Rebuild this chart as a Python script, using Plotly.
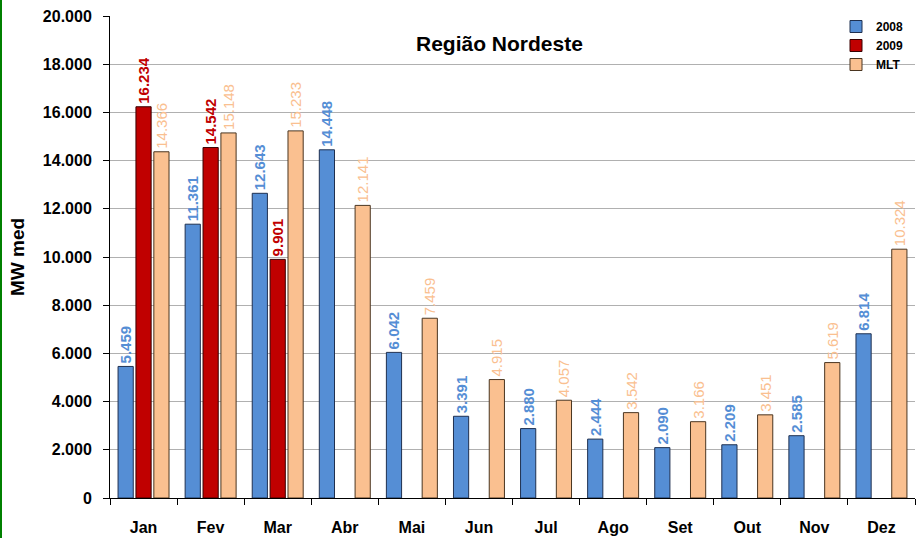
import plotly.graph_objects as go

months = ["Jan", "Fev", "Mar", "Abr", "Mai", "Jun", "Jul", "Ago", "Set", "Out", "Nov", "Dez"]
v2008 = [5459, 11361, 12643, 14448, 6042, 3391, 2880, 2444, 2090, 2209, 2585, 6814]
v2009 = [16234, 14542, 9901, None, None, None, None, None, None, None, None, None]
mlt = [14366, 15148, 15233, 12141, 7459, 4915, 4057, 3542, 3166, 3451, 5619, 10324]

FONT = "Liberation Sans, Arial, sans-serif"
W, H = 918, 538
ML, MR, MT, MB = 110, 3, 16, 40
PW, PH = W - ML - MR, H - MT - MB

def px_x(x):
    return (x - ML) / PW

def px_y(y):
    return (H - MB - y) / PH

series = [
    ("2008", v2008, "#558ED5", "#1F3050", True),
    ("2009", v2009, "#C00000", "#3A0000", True),
    ("MLT", mlt, "#FAC090", "#4A3520", False),
]

fig = go.Figure()
for name, vals, col, edge, bold in series:
    fig.add_trace(go.Bar(
        x=months, y=vals, name=name,
        marker=dict(color=col, line=dict(color=edge, width=1)),
        texttemplate="<b>%{y:,.0f}</b>" if bold else "%{y:,.0f}",
        textposition="outside", textangle=-90, constraintext="none",
        cliponaxis=False,
        textfont=dict(family=FONT, size=15, color=col),
    ))

fig.update_layout(
    width=W, height=H,
    margin=dict(l=ML, r=MR, t=MT, b=MB, autoexpand=False),
    paper_bgcolor="white", plot_bgcolor="white",
    separators=",.",
    barmode="group", bargap=0.2, bargroupgap=0.15,
    showlegend=True,
    legend=dict(
        x=px_x(836), y=px_y(12), xanchor="left", yanchor="top",
        font=dict(family=FONT, size=12, color="black", weight="bold"),
        bgcolor="rgba(255,255,255,0)", tracegroupgap=0,
        itemwidth=30,
    ),
    font=dict(family=FONT, color="black"),
    xaxis=dict(
        automargin=False,
        showline=True, linecolor="black", linewidth=1,
        ticks="outside", ticklen=6, tickcolor="black", tickson="boundaries",
        tickfont=dict(family=FONT, size=16, color="black", weight="bold"),
        ticklabelstandoff=15,
    ),
    yaxis=dict(
        automargin=False,
        range=[0, 20000], dtick=2000, tickformat=",d",
        showline=True, linecolor="black", linewidth=1,
        ticks="outside", ticklen=6, tickcolor="black",
        showgrid=True, gridcolor="#B0B0B0", gridwidth=1,
        tickfont=dict(family=FONT, size=16, color="black", weight="bold"),
        ticklabelstandoff=8,
    ),
    annotations=[
        dict(
            text="<b>Região Nordeste</b>", x=px_x(499), y=px_y(43),
            xanchor="center", yanchor="middle",
            xref="paper", yref="paper", showarrow=False,
            font=dict(family=FONT, size=21, color="black"),
        ),
        dict(
            text="<b>MW med</b>", x=px_x(17), y=px_y(257), textangle=-90,
            xanchor="center", yanchor="middle",
            xref="paper", yref="paper", showarrow=False,
            font=dict(family=FONT, size=19, color="black"),
        ),
    ],
    shapes=[dict(
        type="line", xref="paper", yref="paper",
        x0=px_x(1), x1=px_x(1), y0=px_y(0), y1=px_y(H),
        line=dict(color="#008000", width=2),
    )],
)

fig.write_html(
    "out.html",
    config={"displayModeBar": False},
    post_script="document.body.style.margin='0';document.body.style.overflow='hidden';",
)
